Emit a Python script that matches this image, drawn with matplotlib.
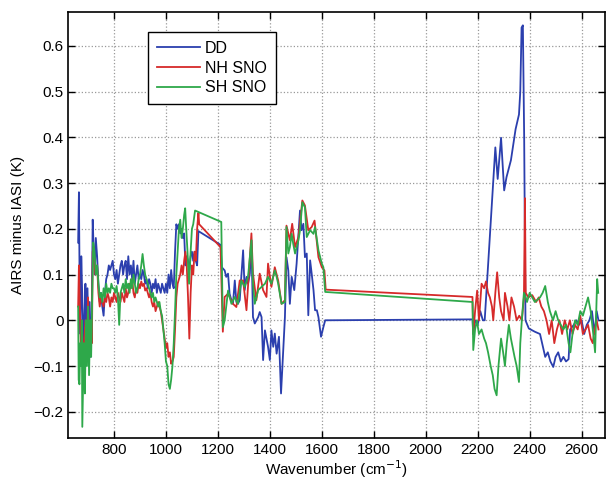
import matplotlib
matplotlib.use("Agg")
import matplotlib.pyplot as plt
from matplotlib.ticker import FuncFormatter

# fonte parecida com Helvetica
plt.rcParams['font.family'] = ['Liberation Sans', 'DejaVu Sans']
plt.rcParams['font.size'] = 11

# pares (numero de onda, diferenca em K)
# DD (diferenca direta)
pontos_dd = [
    (662, 0.17), (665, 0.28), (668, 0.05), (671, -0.03), (674, 0.14), (678, 0.05), (682, -0.05),
    (686, 0.0), (690, 0.08), (694, -0.03), (698, 0.07), (702, -0.05), (706, 0.04), (710, -0.08),
    (714, 0.0), (718, 0.22), (722, 0.15), (726, 0.1), (730, 0.18), (735, 0.14), (740, 0.08),
    (745, 0.04), (750, 0.06), (755, 0.03), (760, 0.01), (765, 0.06), (770, 0.09), (775, 0.1),
    (780, 0.12), (785, 0.11), (790, 0.12), (795, 0.13), (800, 0.1), (805, 0.09), (810, 0.11),
    (815, 0.08), (820, 0.1), (825, 0.12), (830, 0.13), (835, 0.1), (840, 0.12), (845, 0.13),
    (850, 0.09), (855, 0.14), (860, 0.1), (865, 0.12), (870, 0.09), (875, 0.13), (880, 0.08),
    (885, 0.1), (890, 0.12), (895, 0.09), (900, 0.1), (905, 0.09), (910, 0.11), (915, 0.1),
    (920, 0.08), (925, 0.09), (930, 0.07), (935, 0.09), (940, 0.08), (945, 0.06), (950, 0.08),
    (955, 0.07), (960, 0.09), (965, 0.06), (970, 0.08), (975, 0.07), (980, 0.06), (985, 0.08),
    (990, 0.07), (995, 0.06), (1000, 0.08), (1005, 0.06), (1010, 0.1), (1015, 0.07), (1020, 0.11),
    (1025, 0.08), (1030, 0.07), (1035, 0.15), (1040, 0.21), (1045, 0.2), (1050, 0.21),
    (1055, 0.19), (1060, 0.2), (1065, 0.18), (1070, 0.19), (1075, 0.12), (1080, 0.14),
    (1085, 0.13), (1090, 0.11), (1095, 0.14), (1100, 0.15), (1105, 0.13), (1110, 0.15),
    (1115, 0.13), (1120, 0.12), (1125, 0.195), (1210, 0.165), (1215, 0.116), (1226, 0.109),
    (1232, 0.095), (1239, 0.102), (1245, 0.058), (1252, 0.044), (1258, 0.036), (1265, 0.087),
    (1271, 0.04), (1277, 0.036), (1284, 0.044), (1297, 0.153), (1303, 0.066), (1310, 0.095),
    (1316, 0.08), (1323, 0.102), (1329, 0.175), (1335, 0.007), (1342, -0.007), (1355, 0.007),
    (1361, 0.018), (1368, 0.007), (1374, -0.087), (1381, -0.022), (1393, -0.058), (1400, -0.087),
    (1406, -0.022), (1413, -0.058), (1419, -0.029), (1426, -0.073), (1435, -0.036), (1443, -0.16),
    (1452, -0.058), (1458, 0.007), (1464, 0.138), (1471, 0.109), (1477, 0.036), (1484, 0.095),
    (1494, 0.066), (1503, 0.124), (1516, 0.24), (1522, 0.197), (1529, 0.211), (1535, 0.138),
    (1542, 0.146), (1548, 0.011), (1555, 0.131), (1561, 0.102), (1568, 0.066), (1574, 0.022),
    (1581, 0.022), (1587, 0.007), (1597, -0.036), (1606, -0.015), (1613, 0.0), (2180, 0.002),
    (2183, -0.03), (2190, 0.0), (2200, -0.01), (2210, 0.02), (2220, 0.0), (2227, 0.0),
    (2240, 0.12), (2255, 0.26), (2268, 0.378), (2277, 0.309), (2290, 0.399), (2302, 0.284),
    (2311, 0.313), (2328, 0.35), (2346, 0.418), (2359, 0.45), (2364, 0.5), (2369, 0.64),
    (2374, 0.645), (2379, 0.4), (2384, 0.0), (2397, -0.018), (2420, -0.025), (2440, -0.03),
    (2460, -0.08), (2470, -0.07), (2480, -0.09), (2491, -0.102), (2500, -0.08), (2510, -0.07),
    (2520, -0.09), (2530, -0.08), (2540, -0.09), (2550, -0.085), (2556, -0.02), (2570, -0.01),
    (2580, 0.0), (2590, -0.01), (2600, 0.0), (2610, -0.03), (2620, -0.01), (2630, 0.0),
    (2640, 0.02), (2650, -0.03), (2658, 0.02), (2665, 0.0),
]

# NH SNO
pontos_nh = [
    (662, 0.03), (665, 0.12), (668, 0.04), (672, -0.05), (676, 0.0), (680, -0.1), (685, -0.05),
    (690, 0.0), (695, -0.08), (700, 0.05), (705, -0.07), (710, 0.0), (715, -0.05), (718, 0.15),
    (722, 0.16), (728, 0.1), (735, 0.12), (740, 0.06), (745, 0.03), (750, 0.05), (755, 0.04),
    (760, 0.03), (765, 0.05), (770, 0.04), (775, 0.06), (780, 0.05), (785, 0.03), (790, 0.05),
    (795, 0.04), (800, 0.06), (805, 0.05), (810, 0.04), (815, 0.06), (820, 0.05), (825, 0.04),
    (830, 0.06), (835, 0.05), (840, 0.04), (845, 0.07), (850, 0.05), (855, 0.06), (860, 0.08),
    (865, 0.07), (870, 0.09), (875, 0.06), (880, 0.05), (885, 0.07), (890, 0.06), (895, 0.08),
    (900, 0.07), (905, 0.085), (910, 0.075), (915, 0.08), (920, 0.065), (925, 0.07), (930, 0.06),
    (935, 0.05), (940, 0.06), (945, 0.04), (950, 0.03), (955, 0.04), (960, 0.02), (965, 0.03),
    (970, 0.04), (975, 0.03), (980, 0.02), (985, 0.0), (990, -0.02), (995, -0.04), (1000, -0.06),
    (1005, -0.05), (1010, -0.08), (1015, -0.07), (1020, -0.095), (1025, -0.09), (1030, -0.08),
    (1035, -0.02), (1040, 0.05), (1045, 0.08), (1050, 0.09), (1055, 0.1), (1060, 0.12),
    (1065, 0.1), (1070, 0.13), (1075, 0.15), (1080, 0.12), (1085, 0.05), (1090, -0.04),
    (1095, 0.06), (1100, 0.12), (1105, 0.1), (1110, 0.15), (1115, 0.13), (1120, 0.2),
    (1125, 0.235), (1128, 0.21), (1210, 0.16), (1219, -0.025), (1226, 0.051), (1239, 0.058),
    (1258, 0.036), (1271, 0.029), (1284, 0.087), (1297, 0.087), (1310, 0.022), (1329, 0.19),
    (1335, 0.102), (1348, 0.044), (1361, 0.102), (1374, 0.066), (1387, 0.051), (1393, 0.124),
    (1406, 0.073), (1419, 0.116), (1432, 0.087), (1445, 0.036), (1458, 0.044), (1464, 0.207),
    (1477, 0.175), (1486, 0.211), (1497, 0.16), (1510, 0.182), (1525, 0.262), (1535, 0.251),
    (1548, 0.197), (1561, 0.204), (1572, 0.218), (1587, 0.138), (1600, 0.116), (1610, 0.109),
    (1615, 0.067), (2180, 0.051), (2183, -0.03), (2190, 0.02), (2198, 0.065), (2205, 0.0),
    (2215, 0.08), (2225, 0.07), (2232, 0.085), (2240, 0.06), (2247, 0.05), (2255, 0.03),
    (2260, 0.0), (2268, 0.06), (2275, 0.105), (2283, 0.05), (2290, 0.02), (2300, 0.0),
    (2305, 0.06), (2315, 0.03), (2322, 0.0), (2330, 0.05), (2340, 0.03), (2350, 0.0),
    (2360, 0.01), (2370, 0.0), (2378, 0.05), (2382, 0.267), (2385, 0.06), (2395, 0.05),
    (2410, 0.055), (2425, 0.04), (2435, 0.05), (2445, 0.03), (2455, 0.02), (2465, 0.0),
    (2475, -0.03), (2485, 0.0), (2495, -0.05), (2505, -0.02), (2515, 0.0), (2525, -0.03),
    (2535, 0.0), (2545, -0.02), (2555, 0.0), (2565, -0.03), (2575, -0.01), (2585, -0.02),
    (2595, 0.01), (2605, -0.03), (2615, -0.02), (2625, -0.01), (2635, -0.04), (2643, -0.05),
    (2650, -0.02), (2658, 0.0), (2665, -0.02),
]

# SH SNO
pontos_sh = [
    (662, 0.03), (664, -0.13), (667, -0.14), (670, -0.05), (673, -0.1), (676, 0.0), (678, -0.233),
    (684, -0.05), (688, -0.16), (692, 0.0), (696, -0.1), (700, 0.03), (704, -0.12), (708, 0.0),
    (712, -0.08), (716, 0.05), (720, 0.17), (725, 0.15), (730, 0.1), (735, 0.12), (740, 0.08),
    (745, 0.05), (750, 0.06), (755, 0.04), (760, 0.07), (765, 0.05), (770, 0.08), (775, 0.06),
    (780, 0.07), (785, 0.06), (790, 0.08), (795, 0.07), (800, 0.07), (805, 0.06), (810, 0.075),
    (815, 0.05), (820, -0.01), (825, 0.06), (830, 0.07), (835, 0.08), (840, 0.06), (845, 0.09),
    (850, 0.07), (855, 0.08), (860, 0.06), (865, 0.09), (870, 0.07), (875, 0.1), (880, 0.08),
    (885, 0.06), (890, 0.07), (895, 0.09), (900, 0.1), (905, 0.12), (910, 0.145), (915, 0.12),
    (920, 0.1), (925, 0.09), (930, 0.08), (935, 0.07), (940, 0.06), (945, 0.05), (950, 0.06),
    (955, 0.04), (960, 0.05), (965, 0.04), (970, 0.03), (975, 0.04), (980, 0.02), (985, 0.01),
    (990, -0.02), (995, -0.05), (1000, -0.09), (1005, -0.1), (1010, -0.14), (1015, -0.15),
    (1020, -0.13), (1025, -0.1), (1030, -0.05), (1035, 0.02), (1040, 0.1), (1045, 0.15),
    (1050, 0.2), (1055, 0.22), (1060, 0.18), (1065, 0.2), (1070, 0.23), (1074, 0.245),
    (1078, 0.2), (1083, 0.15), (1089, 0.08), (1095, 0.15), (1100, 0.2), (1105, 0.21),
    (1112, 0.24), (1213, 0.215), (1219, -0.015), (1226, 0.0), (1239, 0.065), (1252, 0.036),
    (1265, 0.051), (1277, 0.036), (1290, 0.087), (1303, 0.073), (1316, 0.095), (1329, 0.175),
    (1335, 0.08), (1342, 0.036), (1355, 0.066), (1368, 0.073), (1381, 0.08), (1393, 0.095),
    (1406, 0.08), (1419, 0.109), (1426, 0.095), (1432, 0.08), (1445, 0.036), (1458, 0.04),
    (1464, 0.204), (1471, 0.146), (1477, 0.16), (1484, 0.189), (1490, 0.167), (1497, 0.146),
    (1510, 0.175), (1516, 0.197), (1525, 0.258), (1535, 0.247), (1542, 0.182), (1555, 0.197),
    (1568, 0.189), (1574, 0.204), (1587, 0.153), (1600, 0.124), (1606, 0.116), (1613, 0.062),
    (2180, 0.04), (2183, -0.065), (2190, -0.02), (2197, 0.0), (2205, -0.03), (2215, -0.02),
    (2225, -0.04), (2232, -0.05), (2240, -0.07), (2250, -0.1), (2258, -0.12), (2265, -0.15),
    (2273, -0.164), (2280, -0.1), (2290, -0.04), (2298, -0.07), (2305, -0.1), (2312, -0.05),
    (2320, -0.01), (2328, -0.04), (2335, -0.06), (2342, -0.08), (2350, -0.1), (2359, -0.135),
    (2364, -0.05), (2370, 0.0), (2378, 0.06), (2385, 0.05), (2390, 0.04), (2400, 0.06),
    (2410, 0.05), (2420, 0.04), (2430, 0.045), (2440, 0.05), (2450, 0.06), (2460, 0.075),
    (2470, 0.04), (2478, 0.02), (2490, 0.0), (2500, 0.02), (2510, 0.0), (2520, -0.01),
    (2530, -0.02), (2540, -0.01), (2550, -0.05), (2557, -0.07), (2565, -0.03), (2575, 0.0),
    (2585, -0.01), (2595, 0.02), (2605, 0.01), (2615, 0.03), (2625, 0.05), (2635, 0.02),
    (2645, -0.03), (2652, -0.07), (2660, 0.09), (2664, 0.06),
]

wn_dd, dd = zip(*pontos_dd)
wn_nh, nh = zip(*pontos_nh)
wn_sh, sh = zip(*pontos_sh)

fig = plt.figure(figsize=(6.08, 4.82), dpi=100)
ax = fig.add_axes([0.1123, 0.0907, 0.8827, 0.8843])

ax.plot(wn_dd, dd, color='#2b3fae', lw=1.3, label='DD')
ax.plot(wn_nh, nh, color='#d62a2a', lw=1.3, label='NH SNO')
ax.plot(wn_sh, sh, color='#2ea84a', lw=1.3, label='SH SNO')

ax.set_xlim(624, 2690)
ax.set_ylim(-0.258, 0.674)
ax.set_xticks(range(800, 2601, 200))
ax.set_yticks([-0.2, -0.1, 0, 0.1, 0.2, 0.3, 0.4, 0.5, 0.6])
# estilo matlab: 0 sem casa decimal
ax.yaxis.set_major_formatter(FuncFormatter(lambda v, p: '0' if abs(v) < 1e-9 else f'{v:.1f}'.replace('-', '\u2212')))

ax.tick_params(direction='in', top=True, right=True, length=5, width=1)
ax.grid(True, linestyle=':', color='#999999', linewidth=0.9)
for s in ax.spines.values():
    s.set_linewidth(1.2)

ax.set_xlabel('Wavenumber (cm$^{-1}$)', labelpad=1)
ax.set_ylabel('AIRS minus IASI (K)', labelpad=6)

leg = ax.legend(loc='upper left', bbox_to_anchor=(0.149, 0.953), borderaxespad=0,
                fancybox=False, edgecolor='black', framealpha=1, fontsize=11.5,
                handlelength=2.7, borderpad=0.55, labelspacing=0.3, handletextpad=0.3)
leg.get_frame().set_linewidth(1.0)

plt.savefig('out.png', dpi=100)
